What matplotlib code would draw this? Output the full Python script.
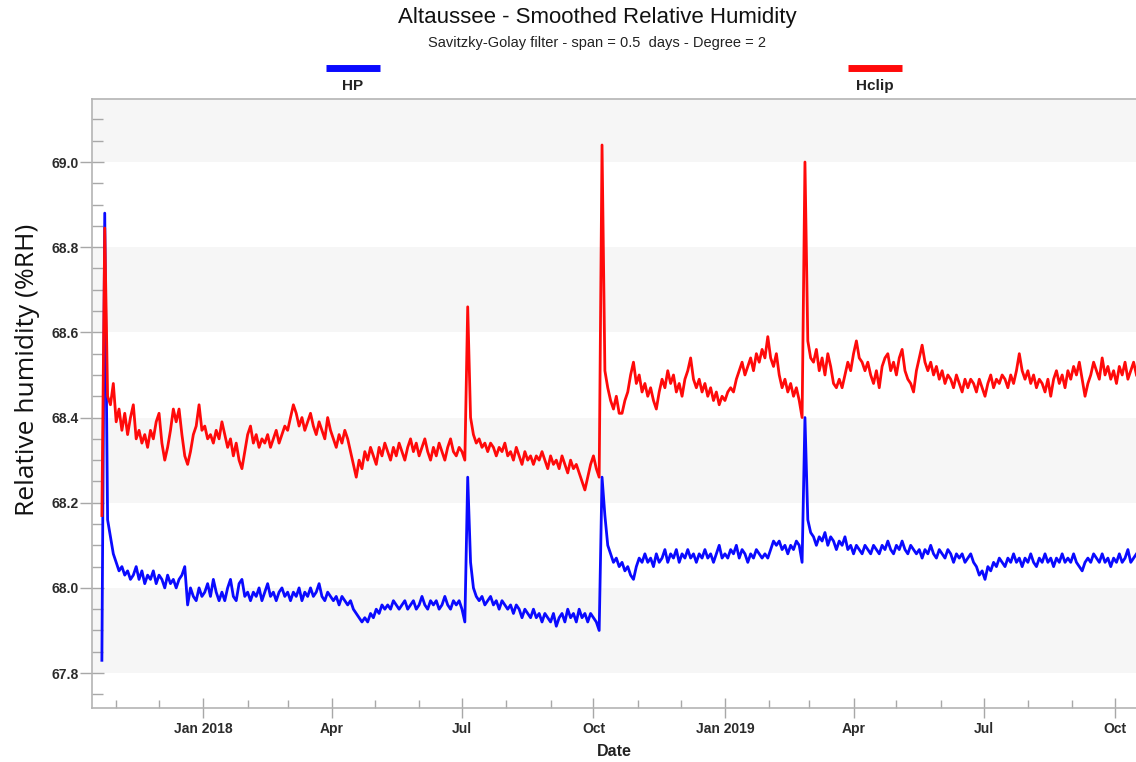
import pandas as pd
import matplotlib
matplotlib.use("Agg")
import matplotlib.pyplot as plt
import matplotlib.dates as mdates
from matplotlib.lines import Line2D
from matplotlib.ticker import MultipleLocator, FuncFormatter

# readings of the smoothed curves, one value every 2 days from the first sample
start_date = "2017-10-22"
step = "2D"

hp = [
    67.83, 68.88, 68.16, 68.12, 68.08, 68.06, 68.04, 68.05, 68.03, 68.04,
    68.02, 68.03, 68.05, 68.02, 68.04, 68.01, 68.03, 68.02, 68.04, 68.01,
    68.03, 68.02, 68.00, 68.03, 68.01, 68.02, 68.00, 68.02, 68.03, 68.05,
    67.96, 68.00, 67.98, 67.97, 68.00, 67.98, 67.99, 68.01, 67.98, 68.02,
    67.99, 67.97, 67.99, 67.97, 68.00, 68.02, 67.98, 67.97, 68.01, 68.02,
    67.98, 67.99, 67.97, 67.99, 67.98, 68.00, 67.97, 67.99, 68.01, 67.98,
    67.99, 67.97, 67.99, 68.00, 67.98, 67.99, 67.97, 67.99, 67.98, 68.00,
    67.97, 67.99, 67.98, 68.00, 67.98, 67.99, 68.01, 67.98, 67.97, 67.99,
    67.98, 67.97, 67.98, 67.96, 67.98, 67.97, 67.96, 67.97, 67.95, 67.94,
    67.93, 67.92, 67.93, 67.92, 67.94, 67.93, 67.95, 67.94, 67.96, 67.95,
    67.96, 67.95, 67.97, 67.96, 67.95, 67.96, 67.97, 67.95, 67.96, 67.97,
    67.95, 67.96, 67.98, 67.96, 67.95, 67.97, 67.96, 67.97, 67.95, 67.96,
    67.98, 67.96, 67.95, 67.97, 67.96, 67.97, 67.95, 67.92, 68.26, 68.06,
    68.00, 67.98, 67.97, 67.98, 67.96, 67.97, 67.98, 67.96, 67.97, 67.95,
    67.97, 67.96, 67.95, 67.96, 67.94, 67.96, 67.95, 67.93, 67.95, 67.94,
    67.93, 67.95, 67.93, 67.94, 67.92, 67.94, 67.93, 67.92, 67.94, 67.91,
    67.93, 67.94, 67.92, 67.95, 67.93, 67.94, 67.92, 67.95, 67.93, 67.94,
    67.92, 67.94, 67.93, 67.92, 67.90, 68.26, 68.17, 68.10, 68.08, 68.06,
    68.07, 68.05, 68.06, 68.04, 68.05, 68.03, 68.02, 68.05, 68.07, 68.06,
    68.08, 68.06, 68.07, 68.05, 68.08, 68.06, 68.07, 68.09, 68.06, 68.08,
    68.07, 68.09, 68.06, 68.08, 68.07, 68.09, 68.07, 68.08, 68.06, 68.08,
    68.07, 68.09, 68.07, 68.08, 68.06, 68.08, 68.10, 68.07, 68.08, 68.07,
    68.09, 68.08, 68.10, 68.07, 68.09, 68.08, 68.06, 68.08, 68.07, 68.09,
    68.08, 68.07, 68.08, 68.07, 68.09, 68.11, 68.10, 68.11, 68.09, 68.10,
    68.08, 68.10, 68.09, 68.11, 68.10, 68.06, 68.40, 68.16, 68.13, 68.12,
    68.10, 68.12, 68.11, 68.13, 68.10, 68.12, 68.11, 68.09, 68.11, 68.10,
    68.12, 68.09, 68.10, 68.08, 68.10, 68.09, 68.08, 68.10, 68.09, 68.08,
    68.10, 68.09, 68.08, 68.10, 68.09, 68.11, 68.09, 68.08, 68.10, 68.09,
    68.11, 68.09, 68.08, 68.10, 68.09, 68.08, 68.09, 68.07, 68.09, 68.08,
    68.10, 68.08, 68.07, 68.09, 68.08, 68.07, 68.09, 68.08, 68.06, 68.08,
    68.07, 68.08, 68.06, 68.07, 68.08, 68.06, 68.05, 68.03, 68.04, 68.02,
    68.05, 68.04, 68.06, 68.05, 68.07, 68.06, 68.05, 68.07, 68.06, 68.08,
    68.06, 68.07, 68.05, 68.07, 68.06, 68.08, 68.06, 68.05, 68.07, 68.06,
    68.08, 68.06, 68.07, 68.05, 68.07, 68.06, 68.08, 68.06, 68.07, 68.06,
    68.08, 68.06, 68.05, 68.04, 68.06, 68.07, 68.06, 68.08, 68.07, 68.06,
    68.08, 68.06, 68.07, 68.05, 68.07, 68.06, 68.08, 68.06, 68.07, 68.09,
    68.06, 68.07, 68.08,
]

hclip = [
    68.17, 68.845, 68.45, 68.43, 68.48, 68.39, 68.42, 68.37, 68.41, 68.36,
    68.40, 68.43, 68.35, 68.37, 68.34, 68.36, 68.33, 68.37, 68.35, 68.39,
    68.41, 68.34, 68.30, 68.33, 68.37, 68.42, 68.39, 68.42, 68.36, 68.31,
    68.29, 68.32, 68.36, 68.38, 68.43, 68.37, 68.38, 68.35, 68.36, 68.34,
    68.37, 68.35, 68.39, 68.36, 68.33, 68.35, 68.31, 68.34, 68.30, 68.28,
    68.32, 68.36, 68.38, 68.34, 68.36, 68.33, 68.35, 68.34, 68.36, 68.33,
    68.35, 68.37, 68.34, 68.36, 68.38, 68.37, 68.40, 68.43, 68.41, 68.38,
    68.40, 68.37, 68.39, 68.41, 68.38, 68.36, 68.39, 68.37, 68.35, 68.40,
    68.37, 68.35, 68.33, 68.36, 68.34, 68.37, 68.35, 68.32, 68.29, 68.26,
    68.30, 68.28, 68.32, 68.30, 68.33, 68.31, 68.29, 68.33, 68.31, 68.34,
    68.32, 68.30, 68.33, 68.31, 68.34, 68.32, 68.30, 68.33, 68.35, 68.32,
    68.34, 68.31, 68.33, 68.35, 68.32, 68.30, 68.33, 68.31, 68.34, 68.32,
    68.30, 68.33, 68.35, 68.32, 68.31, 68.33, 68.32, 68.30, 68.66, 68.40,
    68.36, 68.34, 68.35, 68.33, 68.34, 68.32, 68.34, 68.33, 68.31, 68.33,
    68.32, 68.34, 68.31, 68.32, 68.30, 68.33, 68.31, 68.29, 68.32, 68.30,
    68.31, 68.29, 68.31, 68.30, 68.32, 68.30, 68.28, 68.31, 68.29, 68.30,
    68.28, 68.31, 68.29, 68.27, 68.30, 68.28, 68.29, 68.27, 68.25, 68.23,
    68.26, 68.29, 68.31, 68.28, 68.26, 69.04, 68.51, 68.47, 68.44, 68.42,
    68.45, 68.41, 68.41, 68.44, 68.46, 68.50, 68.53, 68.48, 68.50, 68.46,
    68.48, 68.45, 68.47, 68.44, 68.42, 68.46, 68.49, 68.47, 68.51, 68.48,
    68.50, 68.46, 68.48, 68.45, 68.49, 68.51, 68.54, 68.49, 68.47, 68.49,
    68.46, 68.48, 68.45, 68.47, 68.44, 68.46, 68.43, 68.45, 68.44, 68.46,
    68.47, 68.46, 68.49, 68.51, 68.53, 68.50, 68.52, 68.54, 68.51, 68.55,
    68.53, 68.56, 68.54, 68.59, 68.54, 68.52, 68.55, 68.50, 68.47, 68.49,
    68.46, 68.48, 68.45, 68.47, 68.44, 68.40, 69.00, 68.58, 68.54, 68.53,
    68.56, 68.51, 68.54, 68.50, 68.55, 68.52, 68.48, 68.47, 68.49, 68.47,
    68.50, 68.53, 68.51, 68.55, 68.58, 68.54, 68.53, 68.51, 68.53, 68.50,
    68.48, 68.51, 68.47, 68.52, 68.54, 68.55, 68.51, 68.53, 68.50, 68.54,
    68.56, 68.51, 68.49, 68.48, 68.46, 68.51, 68.54, 68.57, 68.53, 68.51,
    68.53, 68.50, 68.52, 68.49, 68.51, 68.48, 68.50, 68.49, 68.47, 68.50,
    68.48, 68.46, 68.49, 68.47, 68.49, 68.48, 68.46, 68.49, 68.47, 68.45,
    68.48, 68.50, 68.47, 68.49, 68.48, 68.50, 68.49, 68.47, 68.50, 68.48,
    68.51, 68.55, 68.51, 68.49, 68.51, 68.48, 68.50, 68.47, 68.49, 68.48,
    68.46, 68.49, 68.45, 68.49, 68.51, 68.48, 68.50, 68.47, 68.51, 68.49,
    68.52, 68.50, 68.53, 68.49, 68.45, 68.48, 68.50, 68.53, 68.51, 68.49,
    68.54, 68.50, 68.52, 68.49, 68.51, 68.48, 68.52, 68.50, 68.53, 68.49,
    68.51, 68.53, 68.50,
]

series_names = ["HP", "Hclip"]
series_colors = ["#0a0aff", "#ff0a0a"]

shaded_bands = [(67.8, 68.0), (68.2, 68.4), (68.6, 68.8), (69.0, 69.2)]

hp_dates = pd.date_range(start_date, periods=len(hp), freq=step)
hclip_dates = pd.date_range(start_date, periods=len(hclip), freq=step)

W, H = 1136, 762
fig = plt.figure(figsize=(W / 100, H / 100), dpi=100)
ax = fig.add_axes([92 / W, 1 - 708 / H, (W - 92) / W, (708 - 99) / H])

# alternating gray bands behind the curves
for lo, hi in shaded_bands:
    ax.axhspan(lo, hi, color="#f6f6f6", lw=0, zorder=0)

ax.plot(hp_dates, hp, color=series_colors[0], lw=2.0, zorder=2)
ax.plot(hclip_dates, hclip, color=series_colors[1], lw=2.0, zorder=3)

ax.set_ylim(67.718, 69.148)
ax.set_xlim(pd.Timestamp("2017-10-15 02:00"), pd.Timestamp("2019-10-15 16:00"))

# y axis
ax.yaxis.set_major_locator(MultipleLocator(0.2))
ax.yaxis.set_minor_locator(MultipleLocator(0.05))
ax.yaxis.set_major_formatter(FuncFormatter(lambda v, p: f"{v:.1f}"))

# x axis: quarters labelled, months as minor ticks
ax.xaxis.set_major_locator(mdates.MonthLocator(bymonth=[1, 4, 7, 10]))
ax.xaxis.set_minor_locator(mdates.MonthLocator())


def date_label(v, pos):
    d = mdates.num2date(v)
    if d.month == 1:
        return d.strftime("%b %Y")
    return d.strftime("%b")


ax.xaxis.set_major_formatter(FuncFormatter(date_label))

tick_gray = "#a8a8a8"
ax.tick_params(axis="y", which="major", direction="inout", length=17, width=1,
               color=tick_gray, pad=1, labelsize=10, labelcolor="#2b2b2b")
ax.tick_params(axis="y", which="minor", direction="in", length=8, width=1, color=tick_gray)
ax.tick_params(axis="x", which="major", direction="inout", length=14, width=1,
               color=tick_gray, pad=3, labelsize=10, labelcolor="#2b2b2b")
ax.tick_params(axis="x", which="minor", direction="in", length=6, width=1, color=tick_gray)
for lab in ax.get_xticklabels() + ax.get_yticklabels():
    lab.set_fontweight("bold")
    lab.set_family("Liberation Sans")

for side in ["left", "bottom", "top"]:
    ax.spines[side].set_color("#b4b4b4")
    ax.spines[side].set_linewidth(1.2)
ax.spines["right"].set_visible(False)

ax.set_ylabel("Relative humidity (%RH)", family="Open Sans", fontsize=19,
              color="#111111", va="center")
ax.yaxis.set_label_coords(-0.062, 0.555)
ax.set_xlabel("Date", family="Liberation Sans", fontsize=11.5, fontweight="bold",
              color="#222222", labelpad=6)

# titles
fig.text(597 / W, 1 - 18 / H, "Altaussee - Smoothed Relative Humidity",
         ha="center", va="center", family="Liberation Sans", fontsize=16, color="#111111")
fig.text(597 / W, 1 - 43 / H, "Savitzky-Golay filter - span = 0.5  days - Degree = 2",
         ha="center", va="center", family="Liberation Sans", fontsize=10.5, color="#222222")

# legend drawn above the plot: swatch with the name underneath
legend_x = [353, 875]
for name, col, cx in zip(series_names, series_colors, legend_x):
    fig.add_artist(Line2D([(cx - 27) / W, (cx + 27) / W], [1 - 68 / H, 1 - 68 / H],
                          color=col, lw=5, solid_capstyle="butt", transform=fig.transFigure))
    fig.text(cx / W, 1 - 86 / H, name, ha="center", va="center", family="Liberation Sans",
             fontsize=11, fontweight="bold", color="#222222")

fig.savefig("out.png", dpi=100)
